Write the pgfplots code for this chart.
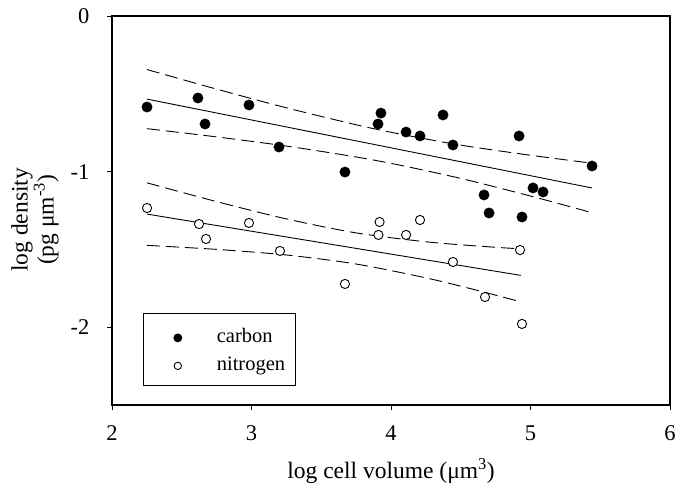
\documentclass[border=0pt]{standalone}
\usepackage{fontspec}
\setmainfont{Liberation Serif}
\usepackage{pgfplots}
\pgfplotsset{compat=1.18}
\pgfplotsset{
  legdot/.style={legend image code/.code={\path (-24pt,0pt); \draw[##1, mark size=4pt] plot coordinates {(0pt,-2.5pt)};}},
  legcirc/.style={legend image code/.code={\path (-24pt,0pt); \draw[##1, mark size=3.7pt] plot coordinates {(0pt,-2.5pt)};}},
}
\begin{document}
\begin{tikzpicture}
\useasboundingbox (-112pt,-84pt) rectangle (567pt,405pt);
\begin{axis}[
  scale only axis, width=558pt, height=389pt,
  xmin=2, xmax=6, ymin=-2.5, ymax=0,
  xtick={2,3,4,5,6}, ytick={-2,-1,0},
  tick pos=left, tick align=outside, major tick length=5pt,
  tick style={line width=0.9pt, black},
  axis line style={line width=1.3pt},
  /pgf/number format/assume math mode=true,
  ticklabel style={font=\fontsize{22.5}{26}\selectfont},
  xticklabel style={yshift=-12pt},
  yticklabel style={xshift=-14pt},
  xlabel={log cell volume (μm\textsuperscript{3})},
  xlabel style={at={(rel axis cs:0.5,-0.190)}, anchor=base, font=\fontsize{23.5}{26}\selectfont},
  ylabel={log density\\(pg μm\textsuperscript{-3})},
  ylabel style={at={(rel axis cs:-0.138,0.476)}, anchor=center, align=center, font=\fontsize{23.5}{24}\selectfont},
  legend style={at={(rel axis cs:0.0556,0.2365)}, anchor=north west, draw=black, line width=0.8pt,
    inner xsep=10pt, inner ysep=15pt, row sep=14pt, column sep=35pt,
    nodes={inner sep=0pt, text height=14pt, text depth=0pt, font=\fontsize{20.5}{24}\selectfont}},
  legend cell align=left,
]
% carbon regression and confidence band
\addplot[black, line width=0.9pt, forget plot] coordinates {(2.25,-0.534) (5.44,-1.105)};
\addplot[black, line width=0.9pt, dash pattern=on 13pt off 6pt, smooth, forget plot] coordinates {
(2.25,-0.344) (2.75,-0.470) (3.25,-0.590) (3.75,-0.699) (4.06,-0.758) (4.5,-0.830) (5.0,-0.895) (5.44,-0.946)};
\addplot[black, line width=0.9pt, dash pattern=on 13pt off 6pt, smooth, forget plot] coordinates {
(2.25,-0.724) (2.75,-0.777) (3.25,-0.836) (3.75,-0.906) (4.06,-0.958) (4.5,-1.044) (5.0,-1.157) (5.44,-1.264)};
% nitrogen regression and confidence band
\addplot[black, line width=0.9pt, forget plot] coordinates {(2.25,-1.273) (4.93,-1.667)};
\addplot[black, line width=0.9pt, dash pattern=on 13pt off 6pt, smooth, forget plot] coordinates {
(2.25,-1.072) (2.75,-1.193) (3.25,-1.304) (3.75,-1.394) (4.25,-1.451) (4.6,-1.477) (4.93,-1.497)};
\addplot[black, line width=0.9pt, dash pattern=on 13pt off 6pt, smooth, forget plot] coordinates {
(2.25,-1.474) (2.75,-1.500) (3.25,-1.536) (3.75,-1.594) (4.25,-1.683) (4.6,-1.759) (4.93,-1.837)};
% carbon
\addplot[only marks, mark=*, mark size=5.2pt, mark options={fill=black, draw=black}, legdot] coordinates {
(2.251,-0.585) (2.616,-0.527) (2.667,-0.694) (2.982,-0.572) (3.197,-0.842) (3.670,-1.003)
(3.907,-0.694) (3.928,-0.624) (4.108,-0.746) (4.208,-0.771) (4.373,-0.636) (4.444,-0.829)
(4.667,-1.150) (4.703,-1.266) (4.918,-0.771) (4.939,-1.292) (5.018,-1.105) (5.090,-1.131) (5.441,-0.964)};
% nitrogen
\addplot[only marks, mark=*, mark size=4.6pt, mark options={fill=white, draw=black, line width=0.9pt}, legcirc] coordinates {
(2.251,-1.234) (2.624,-1.337) (2.674,-1.433) (2.982,-1.330) (3.204,-1.510) (3.670,-1.722)
(3.910,-1.407) (3.918,-1.324) (4.108,-1.407) (4.208,-1.311) (4.444,-1.581) (4.674,-1.806)
(4.925,-1.504) (4.939,-1.979)};
\legend{carbon, nitrogen}
\end{axis}
\end{tikzpicture}
\end{document}
